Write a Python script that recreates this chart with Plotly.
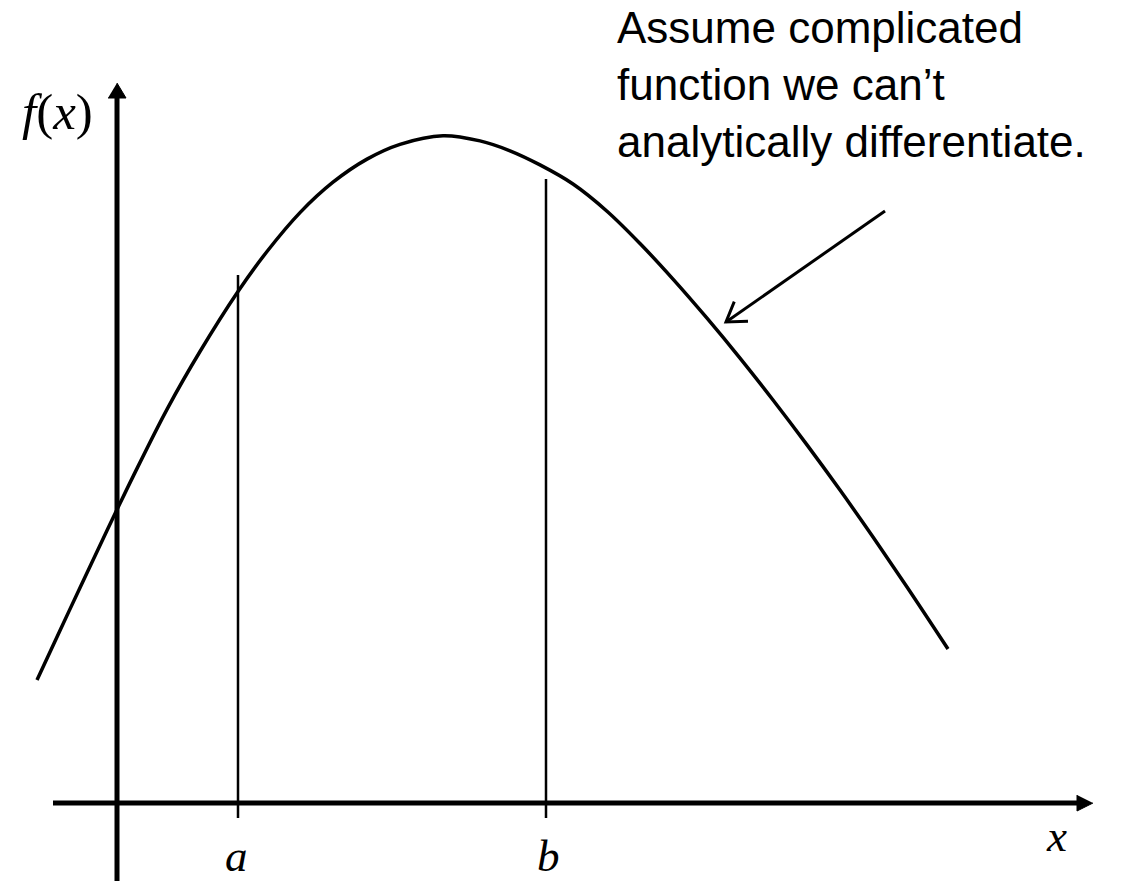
import numpy as np
import plotly.graph_objects as go

# Curve f(x) (pixel-space coordinates, y grows downward)
curve_x = [37, 60, 80, 107, 117, 133, 167, 200, 238, 267, 300, 333, 367, 400, 443,
           480, 510, 540, 573, 607, 640, 673, 707, 740, 773, 807, 840, 873, 907, 948]
curve_y = [680, 630.5, 587.7, 530.5, 509.6, 476.6, 409.3, 351.5, 291.5, 251.5, 212.6,
           182.2, 159.1, 144.3, 135.7, 140.9, 150.8, 164.9, 184.0, 211.2, 243.5, 279.1,
           318.2, 358.1, 400.0, 444.9, 490.1, 537.0, 587.0, 649.0]

# Axes
axis_origin = (117, 803)
x_axis_span = [53, 1078]
y_axis_span = [890, 98]
x_head = {"x": [1077, 1077, 1093], "y": [795, 811, 803]}
y_head = {"x": [108, 126, 117], "y": [98, 98, 83]}

# Vertical markers a and b
marker_x = [238, 546]
marker_top = [275, 179]
marker_bottom = 818
marker_labels = ["a", "b"]

# Pointer arrow (tail -> tip)
pointer_tail = (885, 211)
pointer_tip = (726, 322)

note_text = "Assume complicated<br>function we can’t<br>analytically differentiate."

# the page body has an 8px margin; shift the ranges so data units equal page pixels
PAGE_OFFSET = 8
W, H = 1145, 881

fig = go.Figure()

BLACK = "#000000"

# axes lines
fig.add_trace(go.Scatter(x=x_axis_span, y=[axis_origin[1]] * 2, mode="lines",
                         line=dict(color=BLACK, width=5), hoverinfo="skip"))
fig.add_trace(go.Scatter(x=[axis_origin[0]] * 2, y=y_axis_span, mode="lines",
                         line=dict(color=BLACK, width=5), hoverinfo="skip"))
# arrow heads
for h in (x_head, y_head):
    fig.add_trace(go.Scatter(x=h["x"], y=h["y"], fill="toself", fillcolor=BLACK,
                             mode="lines", line=dict(color=BLACK, width=1), hoverinfo="skip"))

# a, b vertical lines
for mx, mt in zip(marker_x, marker_top):
    fig.add_trace(go.Scatter(x=[mx, mx], y=[mt, marker_bottom], mode="lines",
                             line=dict(color=BLACK, width=2.5), hoverinfo="skip"))

# curve
fig.add_trace(go.Scatter(x=curve_x, y=curve_y, mode="lines",
                         line=dict(color=BLACK, width=3.5, shape="spline", smoothing=1.0),
                         hoverinfo="skip"))

# pointer arrow with open head
tx, ty = pointer_tip
dx, dy = pointer_tail[0] - tx, pointer_tail[1] - ty
ang = np.arctan2(dy, dx)
head_len = 22
h1 = (tx + head_len * np.cos(ang + np.radians(33)), ty + head_len * np.sin(ang + np.radians(33)))
h2 = (tx + head_len * np.cos(ang - np.radians(33)), ty + head_len * np.sin(ang - np.radians(33)))
fig.add_trace(go.Scatter(x=[pointer_tail[0], tx], y=[pointer_tail[1], ty], mode="lines",
                         line=dict(color=BLACK, width=3), hoverinfo="skip"))
fig.add_trace(go.Scatter(x=[h1[0], tx, h2[0]], y=[h1[1], ty, h2[1]], mode="lines",
                         line=dict(color=BLACK, width=3), hoverinfo="skip"))

serif = dict(family="Liberation Serif, Times New Roman, serif", size=45, color=BLACK)

annotations = [
    dict(x=57, y=112, text="<i>f</i>(<i>x</i>)",
         font=dict(family=serif["family"], size=51, color=BLACK)),
    dict(x=marker_x[0] - 2, y=856, text="<i>%s</i>" % marker_labels[0], font=serif),
    dict(x=marker_x[1] + 2, y=856, text="<i>%s</i>" % marker_labels[1], font=serif),
    dict(x=1056, y=836, text="<i>x</i>", font=serif),
]
for a in annotations:
    a.update(xanchor="center", yanchor="middle", showarrow=False, xref="x", yref="y")

annotations.append(
    dict(x=615, y=1 + 7 / H, xref="x", yref="paper", text=note_text,
         xanchor="left", yanchor="top", align="left", showarrow=False,
         font=dict(family="Liberation Sans, Arial, sans-serif", size=44, color=BLACK))
)

fig.update_layout(
    width=W, height=H,
    margin=dict(l=0, r=0, t=0, b=0),
    paper_bgcolor="white", plot_bgcolor="white",
    showlegend=False,
    xaxis=dict(range=[PAGE_OFFSET, W + PAGE_OFFSET], visible=False, fixedrange=True),
    yaxis=dict(range=[H + PAGE_OFFSET, PAGE_OFFSET], visible=False, fixedrange=True),
    annotations=annotations,
)

fig.write_html("out.html")
